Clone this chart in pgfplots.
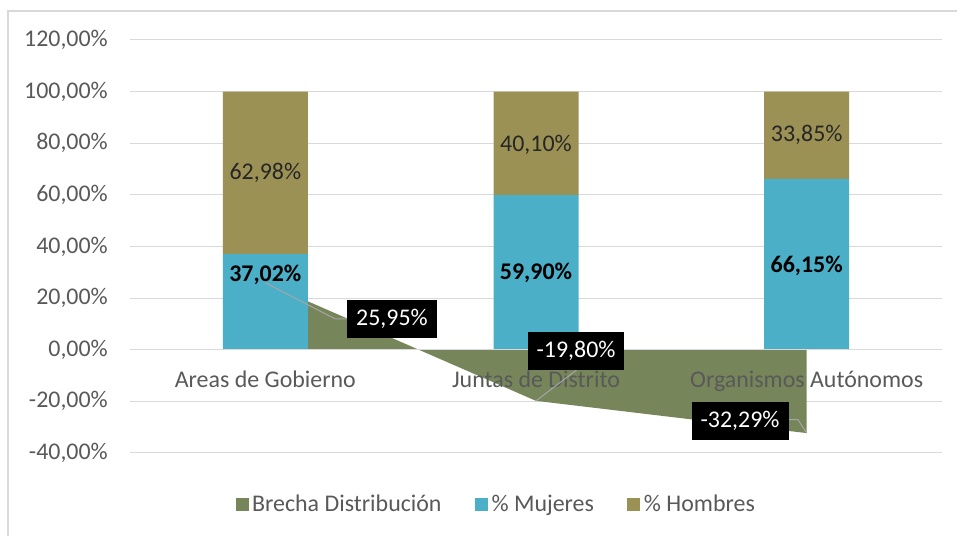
\documentclass[border=0pt]{standalone}
\usepackage{fontspec}
\setmainfont{Carlito}
\usepackage{pgfplots}
\pgfplotsset{compat=1.18}
\definecolor{mujeres}{HTML}{4BAFC8}
\definecolor{hombres}{HTML}{9B9155}
\definecolor{brecha}{HTML}{77855A}
\definecolor{gridgray}{HTML}{D9D9D9}
\definecolor{txtgray}{HTML}{595959}
\definecolor{leader}{HTML}{A6A6A6}
\definecolor{lbldark}{HTML}{262626}
\pgfplotsset{
  sqlegend/.style={legend image code/.code={\fill[##1] (0bp,-6.5bp) rectangle (13bp,6.5bp);}},
  common/.style={at={(130bp,83bp)}, anchor=south west, scale only axis,
    width=812bp, height=413bp, xmin=-0.5, xmax=2.5, ymin=-40, ymax=120,
    axis line style={draw=none}, major tick length=0pt, clip=false},
}
\begin{document}
\begin{tikzpicture}[font=\fontsize{24}{28}\selectfont]
\useasboundingbox (0,0) rectangle (957bp,536bp);
\fill[white] (0,0) rectangle (957bp,536bp);
\draw[gridgray, line width=1.2bp] (8bp,0) -- (8bp,525bp) -- (957bp,525bp);

\begin{axis}[common, xtick=\empty,
  ytick={-40,-20,0,20,40,60,80,100,120},
  yticklabels={{-40,00\%},{-20,00\%},{0,00\%},{20,00\%},{40,00\%},{60,00\%},{80,00\%},{100,00\%},{120,00\%}},
  ymajorgrids, grid style={gridgray, line width=1bp},
  yticklabel style={anchor=east, inner sep=0pt, xshift=-22bp, text=txtgray}]
\addplot[fill=brecha, draw=none] coordinates {(0,25.95) (1,-19.80) (2,-32.29)} \closedcycle;
\end{axis}

\begin{axis}[common, ybar stacked, bar width=0.314, xtick=\empty, ytick=\empty,
  legend style={at={(0.452,-0.1235)}, anchor=center, draw=none, fill=none,
    legend columns=3, text=txtgray, inner sep=0pt, nodes={inner sep=3.5bp},
    /tikz/every even column/.append style={column sep=30bp}}]
\addlegendimage{sqlegend, fill=brecha, draw=none}
\addlegendentry{Brecha Distribución}
\addplot[fill=mujeres, draw=none, sqlegend] coordinates {(0,37.02) (1,59.90) (2,66.15)};
\addlegendentry{\% Mujeres}
\addplot[fill=hombres, draw=none, sqlegend] coordinates {(0,62.98) (1,40.10) (2,33.85)};
\addlegendentry{\% Hombres}
\end{axis}

\begin{axis}[common, xtick=\empty, ytick=\empty]
\draw[gridgray, line width=1bp] (axis cs:-0.5,0) -- (axis cs:2.5,0);
% category labels
\node[anchor=base, text=txtgray] at (axis cs:0,-14.7) {Areas de Gobierno};
\node[anchor=base, text=txtgray] at (axis cs:1,-14.7) {Juntas de Distrito};
\node[anchor=base, text=txtgray] at (axis cs:2,-14.7) {Organismos Autónomos};

% leader lines
\draw[leader, line width=1bp] (axis cs:0,25.95) -- (axis cs:0.257,12.0) -- (axis cs:0.305,12.0);
\draw[leader, line width=1bp] (axis cs:1,-19.80) -- (axis cs:1.151,-7.75);
\draw[leader, line width=1bp] (axis cs:2,-32.29) -- (axis cs:1.968,-27.1) -- (axis cs:1.927,-27.1);

% bar labels
\node[anchor=base, font=\fontsize{24}{28}\selectfont\bfseries] at (axis cs:0,26.4) {37,02\%};
\node[anchor=base, font=\fontsize{24}{28}\selectfont\bfseries] at (axis cs:1,27.1) {59,90\%};
\node[anchor=base, font=\fontsize{24}{28}\selectfont\bfseries] at (axis cs:2,29.8) {66,15\%};
\node[anchor=base, text=lbldark] at (axis cs:0,65.9) {62,98\%};
\node[anchor=base, text=lbldark] at (axis cs:1,76.7) {40,10\%};
\node[anchor=base, text=lbldark] at (axis cs:2,80.6) {33,85\%};

% brecha labels
\node[fill=black, text=white, inner xsep=9bp, inner ysep=0pt, minimum height=38bp] at (axis cs:0.468,12.0) {25,95\%};
\node[fill=black, text=white, inner xsep=9bp, inner ysep=0pt, minimum height=38bp] at (axis cs:1.148,-0.4) {-19,80\%};
\node[fill=black, text=white, inner xsep=9bp, inner ysep=0pt, minimum height=38bp] at (axis cs:1.754,-27.5) {-32,29\%};
\end{axis}
\end{tikzpicture}
\end{document}
